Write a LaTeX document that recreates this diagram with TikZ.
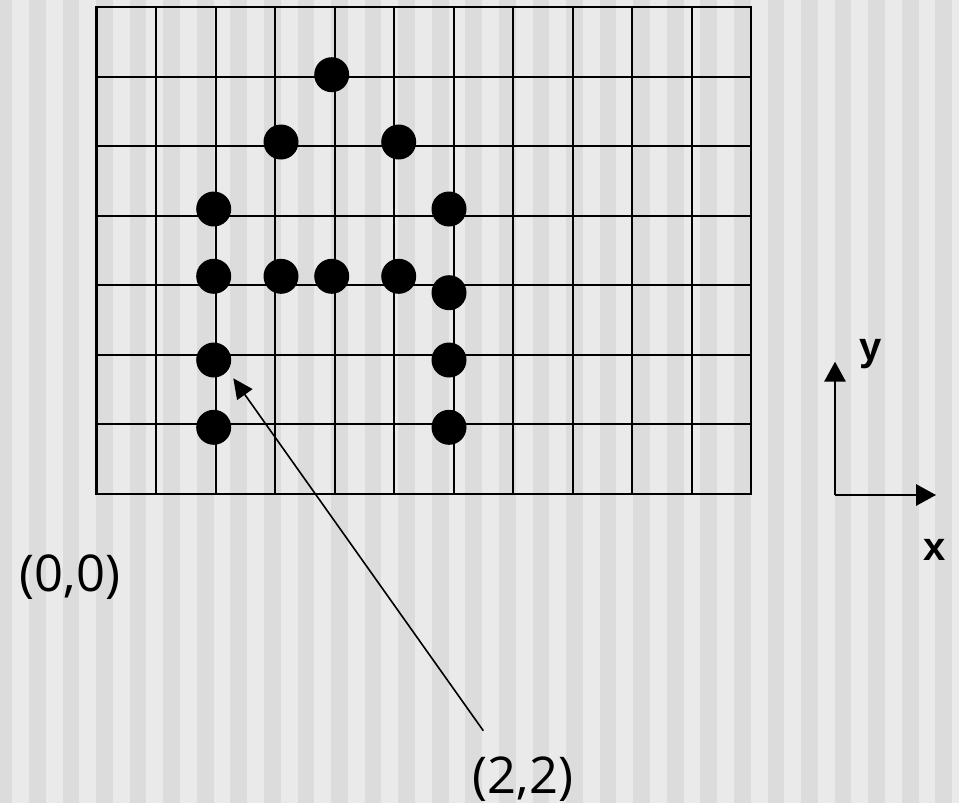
\documentclass[tikz,border=0pt]{standalone}
\usepackage{fontspec}
\setmainfont{Open Sans}
\newfontfamily\labelfont{Liberation Sans}
\usetikzlibrary{arrows.meta}
\definecolor{bgdark}{HTML}{DCDCDC}
\definecolor{bglight}{HTML}{EAEAEA}
\begin{document}
\begin{tikzpicture}[x=0.75pt,y=-0.75pt,
  dot/.style={circle,fill=black,minimum size=26.25pt,inner sep=0pt},
  gridline/.style={line width=1.5pt},
  gridframe/.style={line width=1.9pt},
  pointer/.style={line width=1.2pt,-{Triangle[length=15pt,width=14pt]}},
  axis/.style={line width=1.5pt,-{Triangle[length=15pt,width=16pt]}},
  coordlabel/.style={font=\fontsize{38}{46}\selectfont,inner sep=0pt},
  axislabel/.style={font=\labelfont\bfseries\fontsize{30}{36}\selectfont,inner sep=0pt}]
\useasboundingbox (0,0) rectangle (959,803);
% background stripes
\fill[bglight] (0,0) rectangle (959,803);
\foreach \k in {0,...,29} \fill[bgdark] ({-4.57+\k*33.57},0) rectangle ({-4.57+\k*33.57+16.78},803);
% grid
\foreach \i in {1,...,10} \draw[gridline] ({96.5+\i*59.5},7) -- ({96.5+\i*59.5},494);
\foreach \j in {1,...,6} \draw[gridline] (96.5,{7+\j*69.57}) -- (751,{7+\j*69.57});
\draw[gridframe] (96.5,7) rectangle (751,494);
% dots
\node[dot] (d1) at (331.7,74.7) {};
\node[dot] (d2) at (281,142) {};
\node[dot] (d3) at (398.7,142) {};
\node[dot] (d4) at (213.7,209) {};
\node[dot] (d5) at (449,209) {};
\node[dot] (d6) at (213.7,276.3) {};
\node[dot] (d7) at (281,276.3) {};
\node[dot] (d8) at (331.7,276.3) {};
\node[dot] (d9) at (398.7,276.3) {};
\node[dot] (d10) at (449,292.7) {};
\node[dot] (d11) at (213.7,360) {};
\node[dot] (d12) at (449,360) {};
\node[dot] (d13) at (213.7,427.3) {};
\node[dot] (d14) at (449,427.3) {};
% labels
\node[coordlabel] (origin) at (70,577.5) {(0,0)};
\node[coordlabel] (pt) at (523,779) {(2,2)};
\coordinate (ptail) at (483.3,730.7);
\coordinate (ptip) at (233.3,378.3);
\draw[pointer] (ptail) -- (ptip);
% axes
\coordinate (o) at (835,495);
\coordinate (ytip) at (835,361.7);
\coordinate (xtip) at (936,495);
\draw[axis] (o) -- (ytip);
\draw[axis] (o) -- (xtip);
\node[axislabel] (ylab) at (871,354) {y};
\node[axislabel] (xlab) at (934.8,550.3) {x};
\end{tikzpicture}
\end{document}
